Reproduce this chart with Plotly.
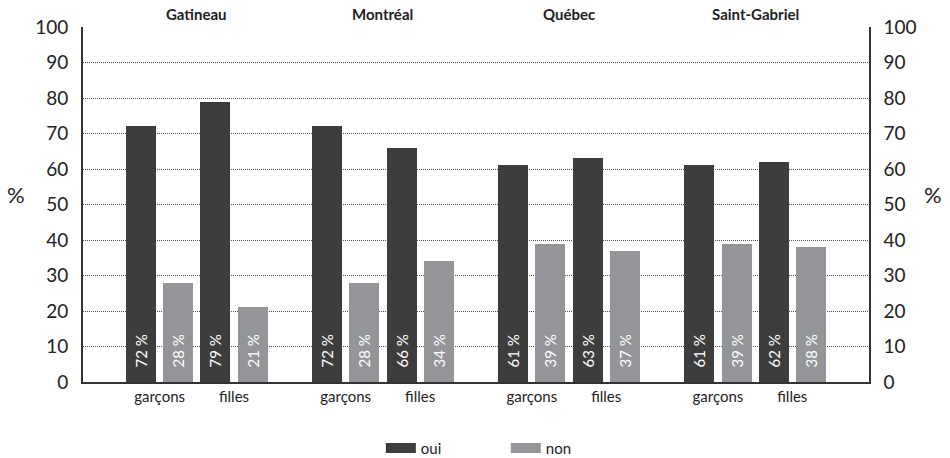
import plotly.graph_objects as go

cities = ["Gatineau", "Montréal", "Québec", "Saint-Gabriel"]
genders = ["garçons", "filles"]
answers = ["oui", "non"]
# values per city, [garçons, filles]
oui_values = [[72, 79], [72, 66], [61, 63], [61, 62]]
non_values = [[28, 21], [28, 34], [39, 37], [39, 38]]
y_ticks = [0, 10, 20, 30, 40, 50, 60, 70, 80, 90, 100]

colors = {"oui": "#3d3d3d", "non": "#939598"}
FONT = "Lato, 'Open Sans', sans-serif"
TXT = "#222222"

fig = go.Figure()
series = {"oui": oui_values, "non": non_values}
for k, ans in enumerate(answers):
    xs, ys, txt = [], [], []
    for i, c in enumerate(cities):
        for j, g in enumerate(genders):
            xs.append(5 * i + 2 * j + k)
            v = series[ans][i][j]
            ys.append(v)
            txt.append("\u00a0\u00a0\u00a0" + f"{v}\u00a0%")
    fig.add_trace(go.Bar(
        x=xs, y=ys, width=0.806, marker=dict(color=colors[ans], line=dict(width=0)),
        text=txt, textposition="inside", insidetextanchor="start", textangle=-90,
        insidetextfont=dict(color="white", size=15, family=FONT),
        showlegend=False, hoverinfo="skip",
    ))
    fig.add_trace(go.Scatter(
        x=[None], y=[None], mode="lines", name=ans,
        line=dict(color=colors[ans], width=13), showlegend=True,
    ))

fig.add_trace(go.Scatter(x=[None], y=[None], yaxis="y2", showlegend=False, hoverinfo="skip"))

tickvals, ticktext = [], []
for i, c in enumerate(cities):
    for j, g in enumerate(genders):
        tickvals.append(5 * i + 2 * j + 0.5)
        ticktext.append(g)

annotations = []
for i, c in enumerate(cities):
    annotations.append(dict(
        x=5 * i + 1.5, y=1, xref="x", yref="paper", text=f"<b>{c}</b>",
        showarrow=False, xanchor="center", yanchor="bottom", yshift=2,
        font=dict(size=15, family=FONT, color=TXT),
    ))
annotations.append(dict(x=0, y=0.527, xref="paper", yref="paper", text="%", showarrow=False,
                        xanchor="center", yanchor="middle", xshift=-67,
                        font=dict(size=22, family=FONT, color=TXT)))
annotations.append(dict(x=1, y=0.527, xref="paper", yref="paper", text="%", showarrow=False,
                        xanchor="center", yanchor="middle", xshift=64,
                        font=dict(size=22, family=FONT, color=TXT)))

fig.update_layout(
    width=950, height=458,
    margin=dict(l=83, r=81, t=27, b=76, autoexpand=False),
    plot_bgcolor="white", paper_bgcolor="white",
    barmode="overlay", bargap=0,
    font=dict(family=FONT, color=TXT),
    xaxis=dict(
        range=[-1.558, 19.56], tickvals=tickvals, ticktext=ticktext, automargin=False,
        showline=True, linecolor="#333333", linewidth=2, showgrid=False, zeroline=False,
        ticks="", tickfont=dict(size=15, family=FONT, color=TXT),
    ),
    yaxis=dict(
        range=[0, 100], tickvals=y_ticks, showline=True, linecolor="#333333", linewidth=2,
        showgrid=True, gridcolor="#555555", griddash="1px,1px", gridwidth=1, zeroline=False,
        ticks="", ticklabelstandoff=9, automargin=False,
        tickfont=dict(size=19, family=FONT, color=TXT),
    ),
    yaxis2=dict(
        range=[0, 100], tickvals=y_ticks, overlaying="y", side="right", showline=True,
        linecolor="#333333", linewidth=1.5, showgrid=False, zeroline=False, automargin=False,
        ticks="", ticklabelstandoff=9, tickfont=dict(size=19, family=FONT, color=TXT),
    ),
    legend=dict(orientation="h", x=0.538, xanchor="center", y=-0.14, yanchor="top",
                font=dict(size=15, family=FONT, color=TXT), entrywidth=80),
    annotations=annotations,
    uniformtext=dict(minsize=15, mode="show"),
)

fig.write_html("out.html", config={"displayModeBar": False},
               post_script="document.body.style.margin='0';")
